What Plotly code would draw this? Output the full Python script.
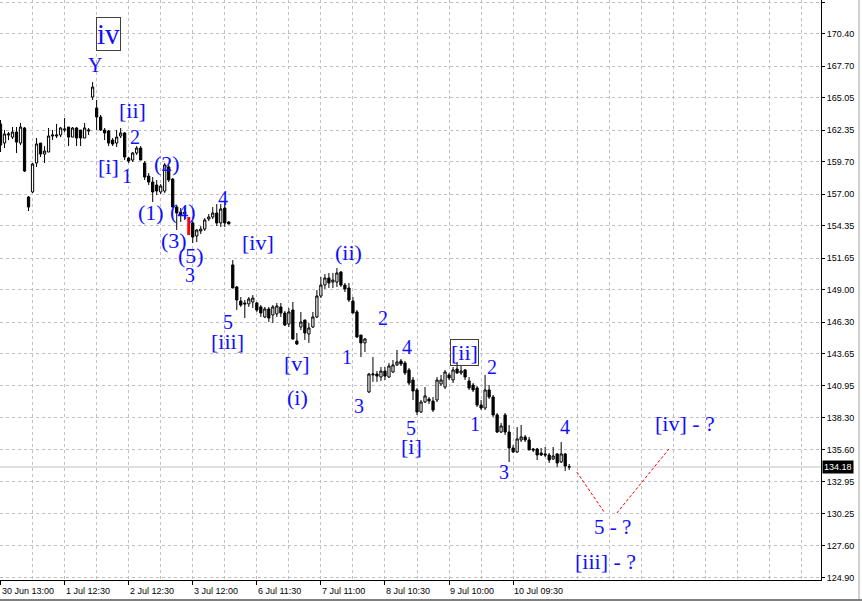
import plotly.graph_objects as go

# ---------------- data ----------------
time_labels = ["30 Jun 13:00", "1 Jul 12:30", "2 Jul 12:30", "3 Jul 12:00", "6 Jul 11:30",
               "7 Jul 11:00", "8 Jul 10:30", "9 Jul 10:00", "10 Jul 09:30"]
time_label_bars = [0, 16, 32, 48, 64, 80, 96, 112, 128]

open_ = [
    162.86, 161.26, 161.93, 161.76, 162.18, 161.26, 162.52, 156.75, 157.17, 159.59,
    161.26, 160.34, 160.51, 161.85, 161.85, 161.93, 162.35, 162.60, 161.76, 162.52,
    162.35, 161.68, 162.27, 165.11, 164.19, 163.44, 162.35, 162.27, 161.51, 161.26,
    161.85, 162.10, 160.01, 159.84, 160.43, 160.84, 159.59, 158.50, 158.00, 157.75,
    157.17, 157.25, 159.26, 158.25, 155.91, 155.49, 155.33, 155.08, 154.58, 153.49,
    153.91, 154.07, 154.91, 155.08, 155.41, 154.58, 155.83, 154.66, 151.07, 149.23,
    148.05, 147.89, 147.81, 147.97, 147.89, 147.56, 146.72, 147.39, 146.89, 146.97,
    147.56, 147.05, 146.13, 147.30, 144.71, 145.88, 146.47, 145.30, 145.88, 146.72,
    148.47, 149.39, 149.98, 149.64, 149.64, 150.48, 149.39, 149.14, 148.05, 147.14,
    145.21, 144.55, 140.45, 141.87, 141.95, 141.70, 142.20, 141.70, 142.12, 142.71,
    143.04, 142.87, 142.29, 141.45, 140.62, 138.78, 139.61, 139.86, 139.69, 139.78,
    141.12, 140.86, 141.87, 141.45, 142.37, 142.04, 142.29, 141.37, 141.03, 140.78,
    139.36, 139.11, 140.62, 140.03, 138.53, 137.10, 138.53, 137.10, 135.77, 135.43,
    136.44, 136.69, 136.44, 135.68, 135.68, 135.35, 135.27, 135.18, 134.85, 135.27,
    134.60, 135.27, 134.20]

high = [
    163.19, 162.35, 162.18, 162.60, 162.60, 162.94, 162.60, 156.83, 159.59, 161.68,
    161.26, 161.01, 162.52, 162.35, 162.86, 162.60, 163.35, 162.60, 162.60, 162.60,
    162.35, 162.94, 162.52, 166.36, 164.86, 163.61, 162.52, 162.35, 161.68, 162.35,
    162.52, 162.18, 160.09, 160.51, 161.01, 161.01, 159.76, 158.75, 158.42, 158.17,
    157.83, 159.59, 159.43, 158.34, 156.08, 155.83, 155.83, 155.08, 154.74, 154.07,
    154.32, 154.99, 155.33, 155.91, 156.16, 156.16, 156.33, 154.74, 151.48, 149.31,
    148.39, 148.14, 148.39, 148.55, 147.97, 147.72, 147.56, 147.56, 147.72, 147.89,
    147.89, 147.22, 147.47, 147.97, 145.38, 147.14, 146.47, 146.22, 147.14, 148.97,
    150.06, 150.31, 150.40, 150.40, 150.81, 150.56, 149.56, 149.56, 148.39, 147.30,
    145.21, 144.96, 142.04, 143.37, 142.20, 142.54, 142.54, 142.87, 143.12, 143.96,
    143.21, 143.04, 142.46, 141.70, 140.78, 139.78, 140.86, 140.03, 140.03, 141.70,
    141.87, 142.29, 142.04, 142.54, 142.96, 142.62, 142.37, 141.70, 141.20, 140.95,
    139.78, 141.87, 141.03, 140.20, 138.69, 137.86, 138.69, 137.69, 136.02, 137.52,
    137.69, 136.85, 136.69, 135.77, 135.77, 135.77, 135.85, 135.35, 135.85, 135.35,
    136.27, 135.35, 134.43]

low = [
    160.51, 160.84, 161.51, 161.60, 160.43, 161.09, 158.84, 155.58, 157.08, 159.26,
    160.09, 159.59, 160.51, 161.51, 161.68, 161.76, 162.18, 161.01, 161.76, 161.01,
    161.01, 161.68, 161.93, 164.86, 162.35, 162.27, 161.51, 161.01, 161.01, 160.93,
    161.68, 159.84, 159.59, 159.68, 160.26, 159.84, 158.17, 157.75, 156.33, 156.92,
    157.00, 157.08, 158.00, 155.83, 153.99, 154.66, 154.83, 153.57, 152.90, 152.98,
    153.65, 153.91, 154.74, 154.91, 154.32, 154.24, 154.24, 154.49, 149.14, 147.30,
    147.56, 146.63, 147.56, 147.47, 147.14, 146.72, 146.63, 146.30, 146.22, 146.72,
    146.72, 145.97, 145.88, 144.80, 144.38, 145.63, 144.80, 144.55, 145.80, 146.63,
    148.30, 149.06, 149.14, 149.14, 149.23, 149.23, 148.81, 147.97, 147.05, 144.96,
    143.37, 143.79, 140.37, 141.29, 141.29, 141.37, 141.45, 141.62, 142.04, 142.62,
    142.62, 141.87, 141.03, 139.78, 138.53, 138.69, 139.53, 139.44, 138.78, 139.61,
    140.95, 140.70, 141.45, 141.20, 141.95, 141.87, 141.45, 140.62, 140.45, 139.19,
    138.94, 138.94, 139.86, 138.36, 137.02, 137.02, 136.85, 134.59, 135.35, 135.35,
    136.27, 136.27, 135.60, 135.43, 134.76, 135.10, 135.01, 134.51, 134.76, 134.18,
    134.51, 133.85, 133.93]

close = [
    161.09, 162.02, 162.02, 162.18, 161.34, 162.60, 158.92, 155.91, 159.51, 161.18,
    160.34, 160.59, 161.85, 161.93, 161.93, 162.52, 162.43, 161.76, 162.52, 161.68,
    161.68, 162.52, 162.35, 165.94, 163.44, 162.35, 162.10, 161.26, 161.18, 161.76,
    162.10, 160.09, 159.76, 160.43, 160.84, 159.84, 158.42, 158.00, 157.17, 157.25,
    157.67, 159.43, 158.17, 155.91, 155.41, 155.24, 155.49, 153.57, 153.40, 153.99,
    154.07, 154.83, 155.08, 155.41, 154.58, 155.75, 154.58, 154.49, 149.14, 148.14,
    147.72, 147.81, 148.22, 148.30, 147.30, 147.05, 147.39, 146.63, 147.56, 147.64,
    147.05, 146.05, 147.14, 144.88, 144.46, 146.30, 145.38, 145.80, 146.72, 148.47,
    149.39, 149.98, 149.56, 149.81, 150.40, 149.39, 149.06, 148.14, 147.05, 145.05,
    144.55, 144.88, 141.95, 141.95, 141.78, 142.20, 141.78, 142.62, 142.71, 142.96,
    142.79, 142.04, 141.20, 140.53, 138.78, 139.61, 140.12, 139.69, 138.94, 141.45,
    141.45, 142.12, 141.62, 142.29, 142.04, 142.20, 141.70, 140.78, 140.62, 139.36,
    139.11, 140.62, 140.03, 138.53, 137.10, 137.61, 137.10, 135.77, 135.43, 136.52,
    136.69, 136.44, 135.60, 135.60, 135.18, 135.18, 135.18, 134.76, 135.10, 134.51,
    135.27, 134.26, 134.18]

highlight_bar = 47  # bar drawn in red

price_ticks = [124.90, 127.60, 130.25, 132.95, 135.60, 138.30, 140.95, 143.65, 146.30,
               149.00, 151.65, 154.35, 157.00, 159.70, 162.35, 165.05, 167.70, 170.40, 173.05]

# Elliott wave labels: text, bar position, price, font size, boxed
wave_text = ["iv", "Y", "[ii]", "2", "[i]", "1", "(2)", "(1)", "(4)", "4", "(3)", "(5)", "3",
             "[iv]", "(ii)", "5", "[iii]", "2", "1", "4", "[ii]", "2", "[v]", "(i)", "3",
             "5", "[i]", "1", "4", "3", "[iv] - ?", "5 - ?", "[iii] - ?"]
wave_x = [26.9, 23.6, 32.9, 33.6, 26.9, 31.6, 41.6, 37.6, 45.6, 55.6, 43.4, 47.6, 47.4,
          64.4, 86.9, 56.9, 56.6, 95.6, 86.6, 101.6, 115.9, 122.6, 74.1, 74.1, 89.4,
          102.6, 102.6, 118.6, 140.9, 125.6, 170.9, 152.9, 151.1]
wave_y = [170.37, 167.78, 164.02, 161.76, 159.34, 158.50, 159.59, 155.49, 155.58, 156.67,
          153.15, 151.90, 150.23, 152.98, 152.07, 146.30, 144.63, 146.63, 143.37, 144.21,
          143.79, 142.54, 142.79, 139.95, 139.28, 137.44, 135.85, 137.78, 137.52, 133.76,
          137.78, 129.16, 126.24]
wave_size = [29, 20, 22, 20, 22, 20, 22, 22, 22, 20, 22, 22, 20,
             22, 22, 20, 22, 20, 20, 20, 22, 20, 22, 22, 20,
             20, 22, 20, 20, 20, 22, 21, 22]
wave_boxed = [True] + [False] * 19 + [True] + [False] * 12

# forecast path (dashed red)
forecast_x = [[143.9, 150.9], [153.9, 166.9]]
forecast_y = [[133.76, 130.33], [130.33, 135.68]]

# ---------------- figure ----------------
bars = list(range(len(open_)))
main_idx = [i for i in bars if i != highlight_bar]

fig = go.Figure()
fig.add_trace(go.Candlestick(
    x=[bars[i] for i in main_idx],
    open=[open_[i] for i in main_idx],
    high=[high[i] for i in main_idx],
    low=[low[i] for i in main_idx],
    close=[close[i] for i in main_idx],
    increasing=dict(line=dict(color="black", width=1), fillcolor="white"),
    decreasing=dict(line=dict(color="black", width=1), fillcolor="black"),
    whiskerwidth=0, showlegend=False, hoverinfo="skip"))

fig.add_trace(go.Scatter(
    x=[highlight_bar, highlight_bar], y=[high[highlight_bar], low[highlight_bar]],
    mode="lines", line=dict(color="red", width=3), showlegend=False, hoverinfo="skip"))

for fx, fy in zip(forecast_x, forecast_y):
    fig.add_trace(go.Scatter(x=fx, y=fy, mode="lines",
                             line=dict(color="red", width=1, dash="3px,2px"),
                             showlegend=False, hoverinfo="skip"))

grid = dict(color="#c0c0c0", dash="3px,3px")
label_bars_set = set(time_label_bars)
minor_vals = [v for v in range(0, 205, 8) if v not in label_bars_set]

fig.update_layout(
    width=862, height=601,
    margin=dict(l=0, r=41, t=0, b=21),
    paper_bgcolor="white", plot_bgcolor="white",
    boxgap=0.2,
    xaxis=dict(range=[-0.125, 204.875], rangeslider=dict(visible=False),
               tickmode="array", tickvals=time_label_bars, showticklabels=False,
               ticks="outside", ticklen=4, tickcolor="black",
               showgrid=True, gridcolor=grid["color"], griddash=grid["dash"], gridwidth=1,
               minor=dict(tickmode="array", tickvals=minor_vals, showgrid=True,
                          gridcolor=grid["color"], griddash=grid["dash"], ticks=""),
               showline=True, linecolor="black", linewidth=1, zeroline=False),
    yaxis=dict(range=[124.73, 173.22], side="right",
               tickmode="array", tickvals=price_ticks,
               ticktext=[f"{v:.2f}" for v in price_ticks],
               tickfont=dict(family="Liberation Sans", size=9, color="black"),
               ticks="outside", ticklen=3, tickcolor="black",
               showgrid=True, gridcolor=grid["color"], griddash=grid["dash"], gridwidth=1,
               showline=True, linecolor="black", linewidth=1, zeroline=False),
)

# bid line
fig.add_shape(type="line", xref="paper", x0=0, x1=1, yref="y", y0=close[-1], y1=close[-1],
              line=dict(color="#c0c0c0", width=1), layer="below")

# current price tag
fig.add_annotation(x=1, xref="paper", y=close[-1], yref="y", text=f"{close[-1]:.2f}",
                   showarrow=False, xanchor="left", yanchor="middle", xshift=1,
                   font=dict(family="Liberation Sans", size=9, color="white"),
                   bgcolor="black", borderpad=1)

# time labels
for tb, tl in zip(time_label_bars, time_labels):
    fig.add_annotation(x=tb, xref="x", y=0, yref="paper", text=tl, showarrow=False,
                       xanchor="left", yanchor="top", yshift=-4, xshift=-1,
                       font=dict(family="Liberation Sans", size=9, color="black"))

# wave labels
for t, wx, wy, ws, wb in zip(wave_text, wave_x, wave_y, wave_size, wave_boxed):
    kw = dict(bordercolor="#404040", borderwidth=1, borderpad=0) if wb else {}
    fig.add_annotation(x=wx, y=wy, text=t, showarrow=False, xanchor="center", yanchor="middle",
                       font=dict(family="Liberation Serif", size=ws, color="#1010ff"), **kw)

# window frame bits
fig.add_shape(type="line", xref="paper", yref="paper", x0=0, x1=862 / 821, y0=-20 / 580, y1=-20 / 580,
              line=dict(color="black", width=1))
fig.add_shape(type="line", xref="paper", yref="paper", x0=859 / 821, x1=859 / 821, y0=1, y1=-19 / 580,
              line=dict(color="#a0a0a0", width=1))

fig.write_html("out.html", config={"displayModeBar": False},
               post_script="document.body.style.margin='0px';document.body.style.overflow='hidden';")
